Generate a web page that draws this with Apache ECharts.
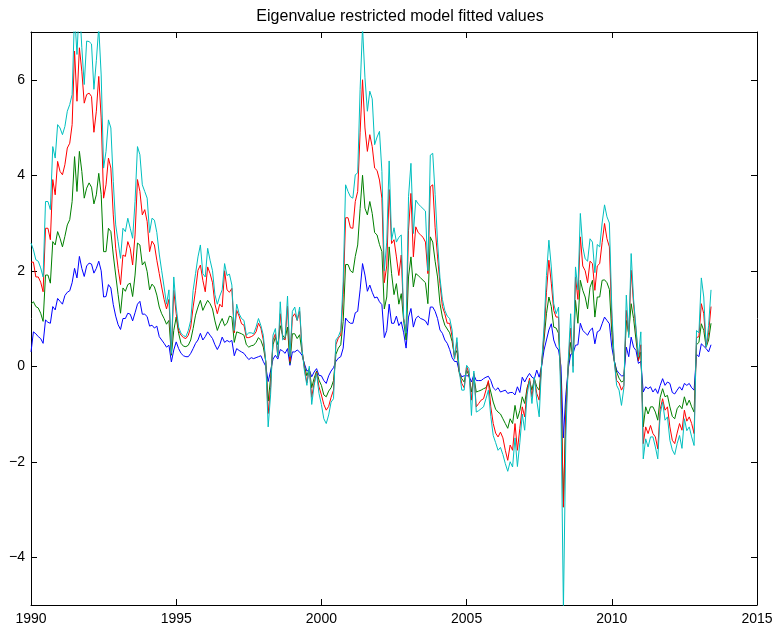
<!DOCTYPE html>
<html>
<head>
<meta charset="utf-8">
<script src="https://cdn.jsdelivr.net/npm/echarts@6/dist/echarts.min.js"></script>
<style>html,body{margin:0;padding:0;background:#fff;}#c{width:778px;height:634px;}</style>
</head>
<body>
<div id="c"></div>
<script>
// Monthly observations starting January 1990
const startYear = 1990;
const xTicks = [1990, 1995, 2000, 2005, 2010, 2015];
const yTicks = [-4, -2, 0, 2, 4, 6];
const titleText = 'Eigenvalue restricted model fitted values';

const blueVals = [0.30,0.72,0.68,0.62,0.58,0.48,0.97,0.92,0.90,1.25,1.18,1.42,1.36,1.30,1.48,1.55,1.58,1.75,2.05,1.85,2.30,2.05,1.88,2.10,2.16,2.14,1.95,2.05,2.20,2.00,1.45,1.46,1.71,1.64,1.29,1.05,0.87,0.77,1.00,1.00,1.11,1.09,0.95,1.12,1.30,1.36,1.09,1.09,1.04,0.84,0.86,0.80,0.84,0.62,0.55,0.48,0.40,0.44,0.09,0.34,0.51,0.37,0.27,0.22,0.20,0.20,0.27,0.37,0.48,0.55,0.69,0.55,0.62,0.72,0.65,0.58,0.45,0.35,0.45,0.61,0.50,0.54,0.51,0.54,0.22,0.37,0.33,0.30,0.27,0.20,0.14,0.18,0.16,0.18,0.20,0.22,0.10,0.00,-0.32,-0.10,0.15,0.23,0.15,0.35,0.32,0.27,0.37,0.02,0.30,0.30,0.34,0.30,0.23,0.05,-0.10,-0.08,-0.22,-0.12,-0.05,-0.19,-0.20,-0.30,-0.36,-0.20,-0.10,-0.03,0.10,0.17,0.20,0.38,1.01,0.94,0.90,0.90,1.12,1.15,1.60,2.15,1.91,1.57,1.70,1.55,1.43,1.45,1.35,1.29,0.60,0.75,1.30,0.90,0.90,1.05,0.85,0.93,0.70,0.38,1.03,1.21,0.82,1.00,1.05,1.00,0.98,0.95,0.86,1.24,1.24,1.15,1.00,0.76,0.69,0.55,0.48,0.35,0.18,0.10,0.10,-0.12,-0.22,-0.20,-0.20,-0.20,-0.33,-0.18,-0.30,-0.30,-0.30,-0.26,-0.23,-0.21,-0.30,-0.45,-0.50,-0.45,-0.54,-0.52,-0.50,-0.57,-0.55,-0.55,-0.60,-0.43,-0.55,-0.23,-0.33,-0.23,-0.15,-0.23,-0.26,-0.08,-0.23,0.00,0.34,0.55,0.76,0.89,0.55,0.41,0.34,0.00,-1.50,-0.60,-0.05,0.25,0.27,0.44,0.45,0.90,0.75,0.70,0.65,0.75,0.80,0.47,0.72,0.75,0.89,1.03,0.96,0.89,0.40,0.12,-0.08,-0.15,-0.20,-0.20,0.40,0.20,0.61,0.40,0.33,0.06,0.10,-0.54,-0.43,-0.47,-0.43,-0.54,-0.47,-0.57,-0.40,-0.26,-0.40,-0.33,-0.36,-0.55,-0.58,-0.50,-0.43,-0.50,-0.36,-0.40,-0.36,-0.45,-0.50,0.25,0.20,0.47,0.42,0.37,0.30,0.45];

const greenVals = [1.30,1.35,1.25,1.22,1.11,0.94,1.91,1.91,1.74,2.61,2.54,2.82,2.68,2.50,2.72,2.96,3.07,3.45,4.39,3.66,4.50,4.08,3.52,3.73,3.84,3.75,3.40,3.59,4.04,3.60,2.40,2.40,2.89,2.82,2.33,1.91,1.50,1.11,1.64,1.57,1.71,1.74,1.46,1.91,2.58,2.54,2.12,2.19,1.98,1.60,1.72,1.66,1.49,1.24,1.10,1.00,0.88,0.96,0.23,0.75,1.03,0.69,0.48,0.42,0.41,0.44,0.55,0.79,1.07,1.24,1.38,1.17,1.28,1.38,1.31,1.20,0.95,0.75,0.89,1.00,0.85,0.90,1.05,1.03,0.50,0.72,0.70,0.68,0.65,0.45,0.40,0.43,0.44,0.50,0.60,0.54,0.40,0.10,-0.73,-0.25,0.45,0.61,0.45,0.85,0.65,0.58,0.82,0.06,0.68,0.68,0.58,0.66,0.30,0.00,-0.20,-0.05,-0.45,-0.25,-0.10,-0.29,-0.40,-0.60,-0.64,-0.52,-0.45,-0.30,0.25,0.38,0.45,0.94,2.13,2.13,2.00,1.96,2.30,2.54,3.30,4.00,3.31,3.17,3.45,3.20,2.80,2.75,2.55,2.40,1.20,1.45,2.50,1.94,1.50,1.73,1.30,1.52,0.95,0.55,1.87,2.29,1.66,1.94,1.90,1.85,1.80,1.75,1.31,2.71,2.60,2.20,1.87,1.31,1.03,0.86,0.78,0.70,0.52,0.22,0.33,-0.15,-0.26,-0.33,-0.08,-0.20,-0.54,-0.22,-0.54,-0.52,-0.50,-0.47,-0.45,-0.33,-0.54,-0.75,-0.90,-0.96,-1.00,-1.10,-1.20,-1.30,-1.10,-1.20,-0.82,-1.10,-0.93,-0.64,-0.78,-0.45,-0.30,-0.50,-0.26,-0.43,-0.50,0.04,0.55,1.10,1.45,1.25,0.82,0.80,0.69,-0.30,-2.95,-0.90,0.00,0.50,0.15,1.38,0.90,1.80,1.59,1.45,1.20,1.65,1.80,1.03,1.45,1.45,1.80,1.81,1.75,1.61,0.70,0.12,-0.12,-0.25,-0.33,-0.30,0.96,0.68,1.31,1.00,0.55,0.12,0.30,-1.27,-0.85,-1.00,-0.85,-0.85,-0.96,-1.13,-0.65,-0.47,-0.64,-0.61,-0.85,-1.05,-1.10,-0.89,-0.82,-0.89,-0.64,-0.82,-0.71,-0.85,-0.96,0.45,0.50,0.89,0.75,0.40,0.55,0.90];

const redVals = [2.18,2.18,1.87,1.87,1.76,1.56,2.89,2.89,2.65,3.91,3.59,4.29,4.08,4.01,4.22,4.57,4.67,5.06,6.60,5.55,6.67,6.18,5.51,5.69,5.72,5.65,4.90,5.34,6.07,5.20,3.52,3.80,4.36,4.15,3.17,2.47,2.05,1.71,2.33,2.30,2.61,2.47,2.12,2.75,3.91,3.66,3.17,3.28,3.03,2.40,2.62,2.54,2.22,1.94,1.66,1.40,1.20,1.40,0.27,1.59,1.10,0.75,0.65,0.60,0.58,0.65,0.82,1.24,1.59,2.01,2.12,1.80,1.56,2.08,1.94,1.75,1.30,1.10,1.30,1.24,2.00,1.60,1.55,1.63,0.70,1.17,1.05,0.89,0.86,0.60,0.60,0.62,0.65,0.72,0.90,0.80,0.55,0.10,-0.99,-0.45,0.55,0.68,0.20,1.10,0.60,0.55,1.26,0.10,1.03,1.10,0.96,1.15,0.35,-0.05,-0.35,-0.05,-0.65,-0.35,-0.12,-0.43,-0.60,-0.80,-0.92,-0.84,-0.65,-0.50,0.45,0.59,0.65,1.50,3.11,3.11,2.90,2.89,3.45,3.66,4.90,6.00,4.99,4.50,4.85,4.60,4.15,4.10,3.90,3.52,1.75,2.10,3.70,2.57,2.65,2.29,1.90,2.33,1.00,0.72,2.85,3.62,2.29,2.92,2.80,2.75,2.70,2.60,1.94,3.76,3.80,2.90,2.29,1.73,1.25,1.10,0.90,0.90,0.62,0.15,0.50,-0.12,-0.36,-0.45,0.00,-0.15,-0.71,-0.15,-0.85,-0.78,-0.71,-0.68,-0.50,-0.30,-0.85,-1.20,-1.40,-1.48,-1.38,-1.50,-1.76,-1.97,-1.65,-1.76,-1.20,-1.76,-1.30,-0.85,-1.06,-0.50,-0.25,-0.64,-0.26,-0.57,-0.71,0.04,0.68,1.55,2.22,1.74,1.17,1.03,1.03,-0.50,-2.95,-1.10,0.05,0.80,0.00,1.87,1.40,2.71,2.10,2.00,1.75,2.20,2.15,1.59,2.10,2.15,2.59,2.99,2.67,2.50,1.00,0.12,-0.30,-0.35,-0.50,-0.40,1.17,0.65,2.01,1.30,0.75,0.12,0.45,-1.62,-1.27,-1.41,-1.24,-1.41,-1.48,-1.73,-0.90,-0.68,-0.92,-0.85,-1.27,-1.55,-1.62,-1.40,-1.20,-1.34,-0.92,-1.15,-1.06,-1.20,-1.41,0.60,0.62,1.31,1.10,0.40,0.70,1.25];

const cyanVals = [2.58,2.44,2.23,2.20,2.06,1.87,3.45,3.45,3.28,4.60,4.36,5.06,4.99,4.85,5.02,5.34,5.48,5.69,7.40,6.53,7.60,6.67,5.90,6.81,6.80,6.75,5.80,6.40,7.10,6.10,4.15,4.50,5.16,4.99,3.87,2.96,2.61,2.26,2.89,2.82,3.10,2.89,2.68,3.45,4.60,4.43,3.80,3.66,3.52,2.80,3.10,3.06,2.80,2.35,2.00,1.66,1.30,1.60,0.27,1.87,1.24,0.82,0.69,0.64,0.62,0.75,0.96,1.59,1.94,2.29,2.54,1.94,1.87,2.47,2.22,2.00,1.50,1.30,1.47,1.60,2.15,1.90,1.93,1.70,0.75,1.30,1.10,1.00,0.96,0.65,0.70,0.70,0.68,0.82,1.00,0.85,0.65,0.10,-1.27,-0.60,0.65,0.79,0.20,1.35,0.55,0.60,1.47,0.20,1.15,1.24,0.96,1.24,0.35,-0.10,-0.40,0.00,-0.80,-0.40,-0.15,-0.57,-0.80,-1.10,-1.20,-1.02,-0.75,-0.68,0.55,0.62,0.75,1.78,3.80,3.66,3.55,3.52,4.01,4.05,5.80,7.10,6.04,5.34,5.76,5.60,4.64,4.80,4.92,4.08,2.00,2.60,4.30,2.64,2.90,2.60,2.70,2.75,1.00,0.70,3.55,4.25,2.78,3.48,3.40,3.35,3.30,3.25,2.00,4.42,4.46,3.60,2.60,1.85,1.40,1.17,1.05,1.00,0.76,0.15,0.60,-0.10,-0.50,-0.50,0.02,-0.05,-1.03,-0.10,-0.96,-0.93,-0.89,-0.85,-0.68,-0.50,-1.05,-1.45,-1.60,-1.76,-1.70,-1.85,-2.04,-2.20,-2.00,-2.11,-1.50,-2.10,-1.60,-1.00,-1.34,-0.60,-0.30,-0.78,-0.23,-0.71,-1.06,0.04,0.82,1.90,2.64,2.08,1.31,1.10,1.24,-0.90,-5.10,-1.50,0.10,1.10,-0.13,2.08,1.60,3.20,2.50,2.25,2.20,2.67,2.60,1.96,2.55,2.50,3.00,3.38,3.13,3.00,1.20,0.12,-0.40,-0.50,-0.82,-0.45,1.49,0.60,2.36,1.40,0.80,0.20,0.72,-1.94,-1.52,-1.69,-1.48,-1.48,-1.69,-1.94,-1.00,-0.75,-1.13,-1.06,-1.55,-1.75,-1.85,-1.62,-1.45,-1.72,-1.10,-1.35,-1.27,-1.48,-1.66,0.75,0.70,1.85,1.45,0.40,0.85,1.60];

function toPairs(vals) {
  return vals.map((v, i) => [startYear + i / 12, v]);
}

const fontFamily = '"Liberation Sans", Arial, Helvetica, sans-serif';
const chart = echarts.init(document.getElementById('c'), null, {renderer: 'canvas'});
const blk = {color: '#000', width: 1};
const minus = v => (v < 0 ? '\u2212' + Math.abs(v) : String(v));

const option = {
  animation: false,
  backgroundColor: '#fff',
  title: {
    text: titleText,
    left: 395,
    top: 4,
    textAlign: 'center',
    textStyle: {fontFamily, fontSize: 16, fontWeight: 'normal', color: '#000'}
  },
  grid: {left: 31, right: 21, top: 32, bottom: 29, containLabel: false},
  xAxis: [
    {
      type: 'value', min: 1990, max: 2015, interval: 5, position: 'bottom',
      axisLine: {show: true, onZero: false, lineStyle: blk},
      axisTick: {show: true, inside: true, length: 6, lineStyle: blk},
      axisLabel: {color: '#000', fontFamily, fontSize: 14, margin: 7,
        customValues: xTicks, formatter: v => String(v)},
      splitLine: {show: false}
    },
    {
      type: 'value', min: 1990, max: 2015, interval: 5, position: 'top',
      axisLine: {show: true, onZero: false, lineStyle: blk},
      axisTick: {show: true, inside: true, length: 6, lineStyle: blk},
      axisLabel: {show: false},
      splitLine: {show: false}
    }
  ],
  yAxis: [
    {
      type: 'value', min: -5, max: 7, position: 'left',
      axisLine: {show: true, onZero: false, lineStyle: blk},
      axisTick: {show: true, inside: true, length: 6, lineStyle: blk, customValues: yTicks},
      axisLabel: {color: '#000', fontFamily, fontSize: 14, margin: 6,
        customValues: yTicks, formatter: minus},
      splitLine: {show: false}
    },
    {
      type: 'value', min: -5, max: 7, position: 'right',
      axisLine: {show: true, onZero: false, lineStyle: blk},
      axisTick: {show: true, inside: true, length: 6, lineStyle: blk, customValues: yTicks},
      axisLabel: {show: false},
      splitLine: {show: false}
    }
  ],
  series: [
    {name: 'blue', data: toPairs(blueVals), color: '#0000ff'},
    {name: 'green', data: toPairs(greenVals), color: '#008000'},
    {name: 'red', data: toPairs(redVals), color: '#ff0000'},
    {name: 'cyan', data: toPairs(cyanVals), color: '#00bfbf'}
  ].map(s => ({
    type: 'line', name: s.name, data: s.data, xAxisIndex: 0, yAxisIndex: 0,
    showSymbol: false, symbol: 'none', clip: true,
    lineStyle: {color: s.color, width: 1}, itemStyle: {color: s.color}
  }))
};
chart.setOption(option);
</script>
</body>
</html>
